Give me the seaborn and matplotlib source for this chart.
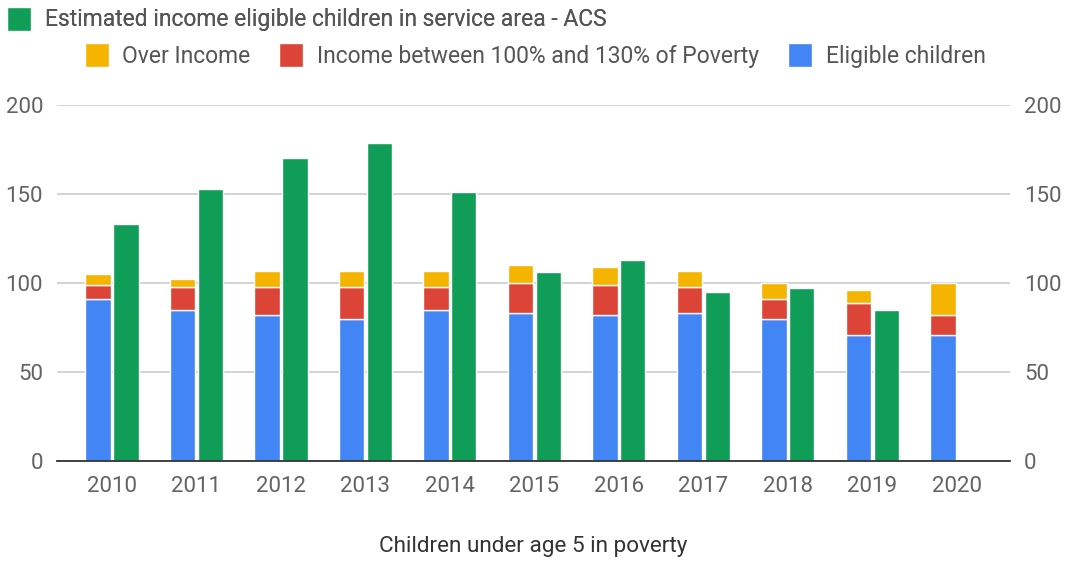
import numpy as np
import pandas as pd
import seaborn as sns
import matplotlib
matplotlib.use("Agg")
import matplotlib.pyplot as plt
from matplotlib.patches import Patch

years = ["2010", "2011", "2012", "2013", "2014", "2015", "2016", "2017", "2018", "2019", "2020"]
eligible = [91, 85, 82, 80, 85, 83, 82, 83, 80, 71, 71]
income_100_130 = [8, 13, 16, 18, 13, 17, 17, 15, 11, 18, 11]
over_income = [6, 4, 9, 9, 9, 10, 10, 9, 9, 7, 18]
acs_estimate = [133, 153, 170, 178.5, 151, 106, 113, 95, 97, 85, np.nan]

C_BLUE = "#4285F4"
C_RED = "#DB4437"
C_YEL = "#F4B400"
C_GRN = "#0F9D58"
TXT = "#636363"

sns.set_theme(style="white")
plt.rcParams["font.family"] = ["Roboto", "DejaVu Sans"]

fig = plt.figure(figsize=(10.65, 5.62), dpi=100)
ax = fig.add_axes([57 / 1065, 1 - 461 / 562, (1010 - 57) / 1065, (461 - 105) / 562])

x = np.arange(len(years))
w = 0.30
off = 0.165
elig = np.array(eligible, dtype=float)
mid = np.array(income_100_130, dtype=float)
over = np.array(over_income, dtype=float)

ax.bar(x - off, elig, width=w, color=C_BLUE, zorder=3)
ax.bar(x - off, mid, width=w, bottom=elig, color=C_RED, zorder=3)
ax.bar(x - off, over, width=w, bottom=elig + mid, color=C_YEL, zorder=3)
ax.bar(x + off, acs_estimate, width=w, color=C_GRN, zorder=3)

ax.set_xlim(-0.65, len(years) - 1 + 0.63)
ax.set_ylim(0, 200)
ax.set_yticks([0, 50, 100, 150, 200])
ax.set_xticks(x)
ax.set_xticklabels(years)
ax.yaxis.grid(True, color="#cccccc", linewidth=1.2, zorder=0)
ax.xaxis.grid(False)
for s in ["top", "right", "left"]:
    ax.spines[s].set_visible(False)
ax.spines["bottom"].set_color("#333333")
ax.spines["bottom"].set_linewidth(1.3)
ax.spines["bottom"].set_zorder(4)
ax.tick_params(axis="both", length=0, labelsize=16, labelcolor=TXT)
ax.tick_params(axis="x", pad=11)
ax.tick_params(axis="y", pad=10)

ax2 = ax.twinx()
ax2.set_ylim(ax.get_ylim())
ax2.set_yticks([0, 50, 100, 150, 200])
for s in ["top", "right", "left", "bottom"]:
    ax2.spines[s].set_visible(False)
ax2.tick_params(axis="y", length=0, labelsize=16, labelcolor=TXT, pad=10)

ax.set_xlabel("Children under age 5 in poverty", fontsize=16.2, color="#333333", labelpad=28)

h1 = [Patch(facecolor=C_GRN)]
leg1 = fig.legend(h1, ["Estimated income eligible children in service area - ACS"],
                  loc="center left", bbox_to_anchor=(0.0, 1 - 19 / 562), frameon=False,
                  fontsize=16.5, labelcolor="#555555", handlelength=1.05, handleheight=1.25,
                  handletextpad=0.6, borderaxespad=0, borderpad=0.3)
fig.add_artist(leg1)
h2 = [Patch(facecolor=C_YEL), Patch(facecolor=C_RED), Patch(facecolor=C_BLUE)]
fig.legend(h2, ["Over Income", "Income between 100% and 130% of Poverty", "Eligible children"],
           loc="center", bbox_to_anchor=(535 / 1065, 1 - 55.5 / 562), ncol=3, frameon=False,
           fontsize=16.5, labelcolor="#555555", handlelength=1.05, handleheight=1.25,
           handletextpad=0.6, columnspacing=1.25, borderaxespad=0)

fig.savefig("out.png", dpi=100, facecolor="white")
